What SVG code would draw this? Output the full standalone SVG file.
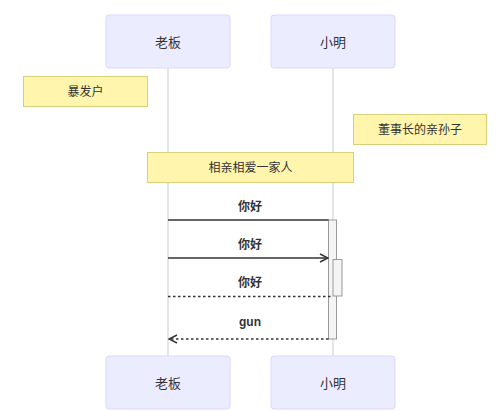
<svg xmlns="http://www.w3.org/2000/svg" width="500" height="411" viewBox="0 0 500 411">
<style>
.actor{fill:#ECECFF;stroke:#D9D9FF;stroke-width:1}
.atext{font-family:"Liberation Sans","Noto Sans CJK SC",sans-serif;font-size:13px;fill:#333;text-anchor:middle;dominant-baseline:central}
.note{fill:#FFF5AD;stroke:#D6D07A;stroke-width:1}
.ntext{font-family:"Liberation Sans","Noto Sans CJK SC",sans-serif;font-size:12px;fill:#333;text-anchor:middle;dominant-baseline:central}
.mtext{font-family:"Liberation Sans","Noto Sans CJK SC",sans-serif;font-size:12px;font-weight:bold;fill:#333;text-anchor:middle;dominant-baseline:central}
.life{stroke:#D3D3D3;stroke-width:1.2}
.msg{stroke:#333;stroke-width:1.3;fill:none}
.dash{stroke-dasharray:2.5,2.5}
.act{fill:#F4F4F4;stroke:#999;stroke-width:1}
</style>
<defs>
<marker id="arr" markerWidth="10" markerHeight="10" refX="9" refY="5" orient="auto" markerUnits="userSpaceOnUse">
<path d="M1,1 L9,5 L1,9" fill="none" stroke="#333" stroke-width="1.4"/>
</marker>
</defs>
<rect width="500" height="411" fill="#fff"/>
<g id="lifelines">
<line class="life" x1="168" y1="68" x2="168" y2="356"/>
<line class="life" x1="333" y1="68" x2="333" y2="356"/>
</g>
<g id="actor-laoban-top"><rect class="actor" x="106" y="15" width="124" height="53" rx="3"/><text class="atext" x="168" y="42">老板</text></g>
<g id="actor-xiaoming-top"><rect class="actor" x="271" y="15" width="124" height="53" rx="3"/><text class="atext" x="333" y="42">小明</text></g>
<g id="note1"><rect class="note" x="23.5" y="76.5" width="124" height="30"/><text class="ntext" x="85.5" y="92">暴发户</text></g>
<g id="note2"><rect class="note" x="353.5" y="114.5" width="133" height="30"/><text class="ntext" x="420" y="130">董事长的亲孙子</text></g>
<g id="note3"><rect class="note" x="147.5" y="152.5" width="206" height="30"/><text class="ntext" x="250.5" y="168">相亲相爱一家人</text></g>
<g id="activations">
<rect class="act" x="328.5" y="220" width="8" height="119"/>
<rect class="act" x="333" y="259.5" width="9" height="36.5"/>
</g>
<g id="connectors">
<line class="msg" x1="168" y1="220" x2="328.5" y2="220"/>
<line class="msg" x1="168" y1="258" x2="328" y2="258" marker-end="url(#arr)"/>
<line class="msg dash" x1="168" y1="296.5" x2="333" y2="296.5"/>
<line class="msg dash" x1="328.5" y1="339" x2="169" y2="339" marker-end="url(#arr)"/>
</g>
<g id="labels">
<text class="mtext" x="250" y="207">你好</text>
<text class="mtext" x="250" y="245">你好</text>
<text class="mtext" x="250" y="283">你好</text>
<text class="mtext" x="250" y="322">gun</text>
</g>
<g id="actor-laoban-bottom"><rect class="actor" x="106" y="356" width="124" height="53" rx="3"/><text class="atext" x="168" y="383">老板</text></g>
<g id="actor-xiaoming-bottom"><rect class="actor" x="271" y="356" width="124" height="53" rx="3"/><text class="atext" x="333" y="383">小明</text></g>
</svg>
